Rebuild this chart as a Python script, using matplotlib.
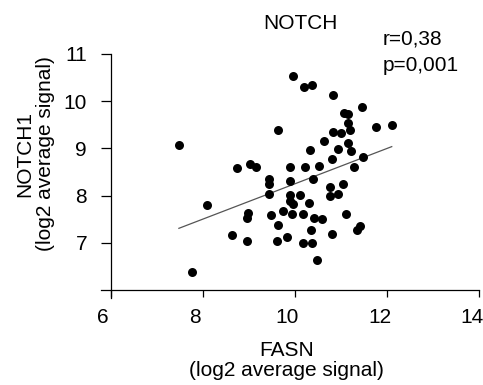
import numpy as np
import matplotlib
matplotlib.use("Agg")
import matplotlib.pyplot as plt
import matplotlib.transforms as mtransforms

# FASN vs NOTCH1 (log2 average signal)
fasn = [9.95, 10.19, 10.37, 9.64, 7.48, 10.32, 8.74, 9.03, 9.16, 9.90,
        10.21, 10.52, 9.44, 9.44, 9.89, 10.40, 10.82, 11.46, 11.07, 11.15,
        11.15, 11.19, 10.83, 10.99, 11.76, 12.10, 10.64, 11.14, 10.94, 11.21,
        10.81, 11.48, 11.28, 9.44, 8.08, 8.98, 8.96, 9.48, 9.89, 10.11,
        9.90, 9.95, 10.30, 9.74, 9.93, 10.18, 10.41, 10.58, 9.64, 10.34,
        8.64, 8.96, 9.61, 9.82, 10.18, 10.37, 10.47, 7.77, 10.76, 11.05,
        10.76, 10.94, 11.10, 11.34, 11.42, 10.81]
notch1 = [10.54, 10.31, 10.34, 9.38, 9.07, 8.96, 8.58, 8.66, 8.61, 8.60,
          8.61, 8.62, 8.35, 8.24, 8.31, 8.36, 10.14, 9.87, 9.76, 9.72,
          9.54, 9.39, 9.35, 9.33, 9.46, 9.50, 9.16, 9.11, 8.98, 8.95,
          8.78, 8.82, 8.60, 8.03, 7.79, 7.63, 7.52, 7.59, 8.02, 8.01,
          7.88, 7.83, 7.84, 7.68, 7.62, 7.61, 7.53, 7.50, 7.38, 7.26,
          7.17, 7.04, 7.04, 7.12, 7.00, 7.00, 6.64, 6.38, 8.19, 8.25,
          8.00, 8.03, 7.60, 7.27, 7.36, 7.18]

x_ticks = [6, 8, 10, 12, 14]
y_ticks = [7, 8, 9, 10, 11]

plt.rcParams["font.family"] = ["Liberation Sans", "DejaVu Sans"]
plt.rcParams["font.size"] = 15

fig = plt.figure(figsize=(4.83, 3.85), dpi=100)
ax = fig.add_axes([0.2085, 0.226, 0.7838, 0.6338])

x = np.array(fasn)
y = np.array(notch1)

ax.scatter(x, y, s=42, color="black", linewidths=0, zorder=3)

# linear fit over the data range
coef = np.polyfit(x, y, 1)
x_line = np.array([x.min(), x.max()])
ax.plot(x_line, coef[0] * x_line + coef[1], color="#555555", linewidth=0.9, zorder=2)

ax.set_xlim(5.783, 14)
ax.set_ylim(5.83, 11)
ax.set_xticks(x_ticks)
ax.set_yticks(y_ticks)

# axes cross at (6, 6), prism style
ax.spines["left"].set_position(("data", 6))
ax.spines["bottom"].set_position(("data", 6))
ax.spines["top"].set_visible(False)
ax.spines["right"].set_visible(False)
for s in ["left", "bottom"]:
    ax.spines[s].set_linewidth(0.9)

ax.tick_params(axis="x", length=5, width=0.9, pad=8)
ax.tick_params(axis="y", length=7, width=0.9, pad=10)

# x tick labels sit a little left of their ticks in the reference
shift = mtransforms.ScaledTranslation(-0.075, 0, fig.dpi_scale_trans)
for lab in ax.get_xticklabels():
    lab.set_transform(lab.get_transform() + shift)

ax.set_xlabel("FASN\n(log2 average signal)", linespacing=1.1)
ax.xaxis.set_label_coords(0.49, -0.175, transform=ax.transAxes)
ax.xaxis.label.set_va("top")
ax.set_ylabel("NOTCH1\n(log2 average signal)", linespacing=1.1)
ax.yaxis.set_label_coords(-0.121, 0.59)

fig.text(0.621, 0.94, "NOTCH", ha="center", va="center")
fig.text(0.793, 0.898, "r=0,38", ha="left", va="center")
fig.text(0.793, 0.83, "p=0,001", ha="left", va="center")

fig.savefig("out.png", dpi=100)
